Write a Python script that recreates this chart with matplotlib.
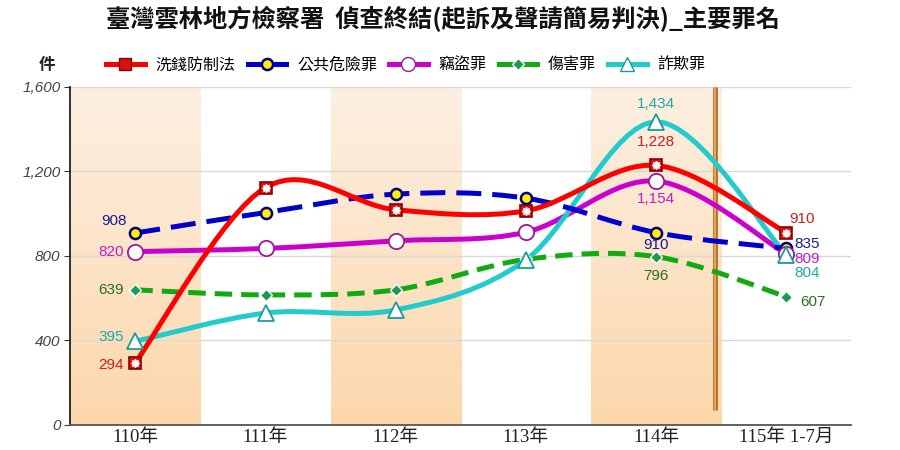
import matplotlib
matplotlib.use('Agg')
import matplotlib.pyplot as plt
import numpy as np
from matplotlib.path import Path
from matplotlib.patches import PathPatch
from matplotlib.lines import Line2D
from matplotlib.colors import LinearSegmentedColormap

plt.rcParams['font.family'] = ['Noto Sans CJK TC', 'DejaVu Sans']

# 資料
years = ['110年', '111年', '112年', '113年', '114年', '115年 1-7月']
money_laundering = [294, 1123, 1018, 1013, 1228, 910]   # 洗錢防制法
public_danger = [908, 1005, 1092, 1073, 910, 835]        # 公共危險罪
theft = [820, 835, 871, 912, 1154, 809]                  # 竊盜罪
injury = [639, 615, 639, 783, 796, 607]                  # 傷害罪
fraud = [395, 529, 544, 781, 1434, 804]                  # 詐欺罪
series_names = ['洗錢防制法', '公共危險罪', '竊盜罪', '傷害罪', '詐欺罪']
title = '臺灣雲林地方檢察署  偵查終結(起訴及聲請簡易判決)_主要罪名'


def smooth_path(xs, ys):
    # Catmull-Rom 轉成貝茲曲線
    pts = np.column_stack([xs, ys]).astype(float)
    p = np.vstack([pts[0], pts, pts[-1]])
    verts = [tuple(pts[0])]
    codes = [Path.MOVETO]
    for i in range(1, len(p) - 2):
        c1 = p[i] + (p[i + 1] - p[i - 1]) / 6
        c2 = p[i + 1] - (p[i + 2] - p[i]) / 6
        verts += [tuple(c1), tuple(c2), tuple(p[i + 1])]
        codes += [Path.CURVE4] * 3
    return Path(verts, codes)


fig = plt.figure(figsize=(9, 4.5), dpi=100)
ax = fig.add_axes([0.078, 0.056, 0.868, 0.751])
x = np.arange(len(years))
ax.set_xlim(-0.5, 5.5)
ax.set_ylim(0, 1600)

# 背景漸層色帶
cmap = LinearSegmentedColormap.from_list('band', ['#fcd7ab', '#fdf0e2'])
grad = np.linspace(0, 1, 256).reshape(-1, 1)
for i in [0, 2, 4]:
    ax.imshow(grad, extent=(i - 0.5, i + 0.5, 0, 1600), origin='lower',
              cmap=cmap, aspect='auto', zorder=0)

ax.set_yticks([0, 400, 800, 1200, 1600])
ax.set_yticklabels(['0', '400', '800', '1,200', '1,600'],
                   family='Liberation Sans', style='italic', color='#444444',
                   fontsize=11)
ax.grid(axis='y', color='#d8d8d8', lw=1, zorder=1)
ax.set_xticks(x)
ax.set_xticklabels(years, fontsize=13.5, color='#222222',
                   family=['Liberation Serif', 'Noto Sans CJK TC'])
ax.tick_params(axis='x', length=0, pad=3)
ax.tick_params(axis='y', length=4, color='#333333', pad=3)
for s in ['top', 'right']:
    ax.spines[s].set_visible(False)
ax.spines['left'].set_color('#222222')
ax.spines['bottom'].set_color('#555555')
ax.spines['left'].set_linewidth(1.3)
ax.spines['bottom'].set_linewidth(1.3)

# 橘色分隔線
ax.plot([4.45, 4.45], [70, 1600], color='#b06a22', lw=3.4, zorder=2,
        solid_capstyle='butt')
ax.plot([4.45, 4.45], [70, 1600], color='#e8a458', lw=1.5, zorder=2,
        solid_capstyle='butt')

styles = [
    dict(vals=money_laundering, color='#ff0000', ls='-', z=6),
    dict(vals=public_danger, color='#0000cc', ls=(0, (5, 2.2)), z=5),
    dict(vals=theft, color='#cc00cc', ls='-', z=4),
    dict(vals=injury, color='#11aa11', ls=(0, (3.5, 1.8)), z=3),
    dict(vals=fraud, color='#22cccc', ls='-', z=4.5),
]
for st in styles:
    patch = PathPatch(smooth_path(x, st['vals']), fill=False,
                      edgecolor=st['color'], lw=3.6, linestyle=st['ls'],
                      capstyle='butt', zorder=st['z'])
    ax.add_patch(patch)

# 標記
ax.plot(x, money_laundering, 's', ms=9, mfc='#d81010', mec='#8b0000', mew=1.2,
        ls='none', zorder=7)
ax.plot(x, money_laundering, marker=(8, 1, 0), ms=6, mfc='white', mec='white',
        ls='none', zorder=8)
ax.plot(x, public_danger, 'o', ms=8, mfc='#ffee00', mec='#000080', mew=1.8,
        ls='none', zorder=7)
ax.plot(x, theft, 'o', ms=11, mfc='white', mec='#9a189a', mew=1.3,
        ls='none', zorder=7)
ax.plot(x, injury, 'D', ms=6, mfc='#1a9a55', mec='white', mew=1,
        ls='none', zorder=7)
ax.plot(x, fraud, '^', ms=11, mfc='white', mec='#1a9a9a', mew=1.3,
        ls='none', zorder=7)

# 數值標籤
lab_font = dict(family='Liberation Sans', fontsize=11)
c_red, c_blue, c_mag, c_green, c_teal = '#cc1f1f', '#1a1a99', '#c21ec2', '#2a6e1f', '#1fa8a8'


def lab(xi, yi, text, color, dx, dy, ha='center'):
    ax.annotate(text, (xi, yi), xytext=(dx, dy), textcoords='offset points',
                ha=ha, va='center', color=color, zorder=9, **lab_font)


def fmt(v):
    return f'{v:,}'


lab(0, public_danger[0], fmt(public_danger[0]), c_blue, -6, 9, 'right')
lab(0, theft[0], fmt(theft[0]), c_mag, -8, 0, 'right')
lab(0, injury[0], fmt(injury[0]), c_green, -8, 0, 'right')
lab(0, fraud[0], fmt(fraud[0]), c_teal, -8, 3, 'right')
lab(0, money_laundering[0], fmt(money_laundering[0]), c_red, -8, -2, 'right')

lab(4, fraud[4], fmt(fraud[4]), c_teal, 0, 13)
lab(4, money_laundering[4], fmt(money_laundering[4]), c_red, 0, 17)
lab(4, theft[4], fmt(theft[4]), c_mag, 0, -13)
lab(4, public_danger[4], fmt(public_danger[4]), c_blue, 0, -9)
lab(4, injury[4], fmt(injury[4]), c_green, 0, -14)

lab(5, money_laundering[5], fmt(money_laundering[5]), c_red, 2, 10, 'left')
lab(5, public_danger[5], fmt(public_danger[5]), c_blue, 6, 3, 'left')
lab(5, theft[5], fmt(theft[5]), c_mag, 6, -4, 'left')
lab(5, fraud[5], fmt(fraud[5]), c_teal, 6, -13, 'left')
lab(5, injury[5], fmt(injury[5]), c_green, 10, -4, 'left')

# 標題與圖例
fig.text(0.492, 0.958, title, ha='center', va='center', fontsize=17.5,
         fontweight='bold', color='#111111')
fig.text(0.052, 0.856, '件', ha='center', va='center', fontsize=12,
         fontweight='bold', color='#222222')

handles = [
    Line2D([], [], color='#ff0000', lw=3.6, marker='s', ms=9, mfc='#d81010',
           mec='#8b0000'),
    Line2D([], [], color='#0000cc', lw=3.6, marker='o', ms=8, mfc='#ffee00',
           mec='#000080', mew=1.8),
    Line2D([], [], color='#cc00cc', lw=3.6, marker='o', ms=10, mfc='white',
           mec='#9a189a'),
    Line2D([], [], color='#11aa11', lw=3.6, marker='D', ms=6, mfc='#1a9a55',
           mec='white'),
    Line2D([], [], color='#22cccc', lw=3.6, marker='^', ms=10, mfc='white',
           mec='#1a9a9a'),
]
fig.legend(handles, series_names, loc='center left', bbox_to_anchor=(0.118, 0.856),
           ncol=5, frameon=False, fontsize=11.5, handlelength=2.4,
           columnspacing=0.75, handletextpad=0.7, borderaxespad=0, borderpad=0)

fig.savefig('out.png', dpi=100)
